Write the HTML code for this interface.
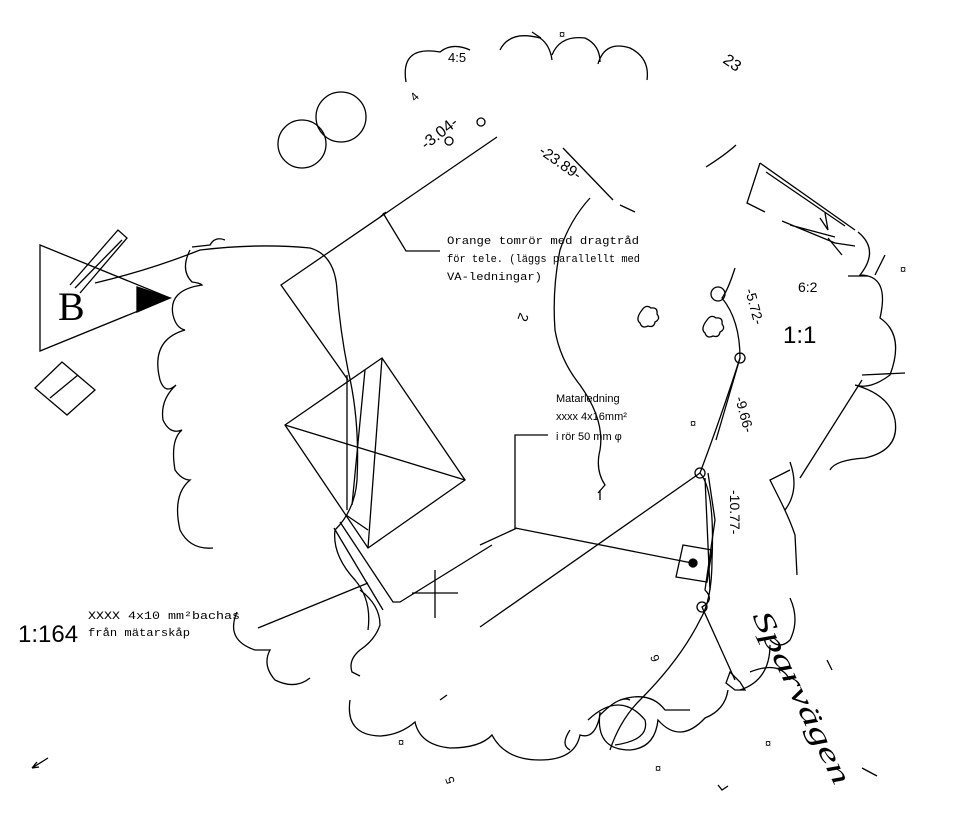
<!DOCTYPE html>
<html><head><meta charset="utf-8"><style>
html,body{margin:0;padding:0;background:#fff;}
svg{display:block}
</style></head><body>
<svg width="960" height="839" viewBox="0 0 960 839" xmlns="http://www.w3.org/2000/svg" style="font-family:'Liberation Sans',sans-serif">
<g fill="none" stroke="#000" stroke-width="1.3">
<path d="M406,82 Q400,45 440,52 Q452,42 470,50 M500,50 Q510,30 540,38 Q550,45 552,60 M552,55 Q560,35 585,38 Q600,45 600,62 M598,64 Q605,40 630,48 Q650,58 647,80"/>
<path d="M532,32 L541,38"/>
<circle cx="302" cy="144" r="24"/>
<circle cx="341" cy="117" r="25"/>
<circle cx="449" cy="141" r="4"/><circle cx="481" cy="122" r="4"/>
<path d="M497,137 L281,285 L348,380"/>
<path d="M380,217 L386,212 M383,213 L406,251 L440,251"/>
<path d="M40,245 L40,351 L170,298 Z"/>
<path d="M137,287 L170,298 L137,312 Z" fill="#000"/>
<path d="M70,285 L118,230 L127,238 L80,293"/>
<path d="M75,288 L122,240"/>
<path d="M35,388 L62,362 L95,390 L67,415 Z"/>
<path d="M50,398 L78,375"/>
<path d="M95,283 Q150,270 200,250 Q260,243 310,248 Q335,255 337,290 Q340,330 348,370 Q360,420 357,480 Q355,510 335,530 Q332,555 355,580 Q372,600 368,630"/>
<path d="M192,247 L210,245 Q215,236 225,240"/>
<path d="M190,250 Q180,270 192,282 Q200,283 202,285 Q168,290 173,315 Q176,328 185,330 Q150,340 160,380 Q165,395 176,385 Q160,400 163,420 Q170,435 182,430 Q170,440 175,470 Q182,480 190,480 Q172,495 180,530 Q190,550 213,548"/>
<path d="M285,425 L382,358 L465,480 L368,548 Z"/>
<path d="M285,425 L465,480 M382,358 L368,548 M347,375 L347,510"/>
<path d="M365,370 L352,505"/>
<path d="M340,522 L393,602 L400,602 L492,545"/>
<path d="M334,528 L383,610 M346,515 L368,530"/>
<path d="M360,590 Q380,605 380,625 Q375,640 360,650 Q348,660 352,672 L360,676"/>
<path d="M412,593 L458,593 M435,570 L435,618"/>
<path d="M258,628 L368,583"/>
<path d="M237,612 Q225,640 255,650 L270,650 Q262,665 275,680 Q295,690 310,678"/>
<path d="M548,435 L515,435 L515,528 L692,563"/>
<path d="M480,627 L700,473"/>
<path d="M480,545 L517,528"/>
<path d="M683,545 L712,550 L707,582 L676,577 Z"/>
<circle cx="693" cy="563" r="4" fill="#000"/>
<circle cx="700" cy="473" r="5"/>
<circle cx="702" cy="607" r="5"/>
<circle cx="740" cy="358" r="5"/>
<circle cx="718" cy="294" r="7"/>
<path d="M735,268 Q728,290 722,298 Q740,320 740,358 Q720,420 700,473 Q715,490 712,560 Q712,600 700,620 Q680,660 640,700 Q620,720 610,750"/>
<path d="M740,358 L716,440 M705,478 L710,590"/>
<path d="M708,473 L715,520 L705,590 Q715,600 702,607 L735,680"/>
<path d="M563,148 L613,200 M620,205 L635,212"/>
<path d="M590,198 Q570,220 560,250 Q552,290 555,330 Q560,360 580,385 Q605,420 600,450 Q595,470 605,485 L598,493 M600,490 L600,500"/>
<path d="M642,310 q4,-6 9,-2 q7,-1 6,6 q4,5 -2,8 q-1,6 -7,4 q-6,3 -8,-3 q-5,-4 2,-13z"/>
<path d="M707,320 q4,-6 9,-2 q7,-1 6,6 q4,5 -2,8 q-1,6 -7,4 q-6,3 -8,-3 q-5,-4 2,-13z"/>
<path d="M706,167 Q725,155 736,145"/>
<path d="M760,163 L747,203 L765,212 M760,163 L855,230 M766,172 L845,226 M782,221 L835,243 L855,246 M790,225 L835,237 M828,238 L842,255 M820,218 L828,230 L825,213"/>
<path d="M875,275 L885,255"/>
<path d="M858,232 Q880,250 860,275 Q890,275 880,318 Q905,335 890,375 Q870,390 855,385 Q890,395 895,420 Q900,450 865,458 Q835,460 830,470"/>
<path d="M848,276 L868,276 M862,375 L905,373"/>
<path d="M800,478 L862,380"/>
<path d="M790,470 L770,480 L780,500 Q790,520 795,535 L797,575"/>
<path d="M790,462 Q800,490 785,510"/>
<path d="M790,598 Q800,620 790,640 Q780,650 770,640 M770,645 Q770,680 740,690"/>
<path d="M750,672 Q780,660 790,680"/>
<path d="M730,672 L740,682 L745,690 L735,690 L726,683 Z"/>
<path d="M350,700 Q345,735 380,736 Q400,735 415,722 Q420,745 450,748 Q480,748 492,735 Q505,760 540,760 Q575,760 580,735 Q595,740 600,715 Q620,695 630,700 M600,712 Q595,750 630,750 Q655,748 658,720 Q680,745 705,718 Q725,710 728,690 M620,700 Q650,690 665,710 L690,710"/>
<path d="M588,720 Q620,690 645,720 Q650,740 615,745"/>
<path d="M440,700 L447,695"/>
<path d="M570,730 Q560,745 570,750"/>
<path d="M32,768 L48,758 M32,768 L37,762 M32,768 L39,767"/>
<path d="M827,660 L832,670 M862,768 L877,776 M718,785 L722,790 L728,786"/>
</g>
<text x="448" y="62" font-size="13">4:5</text>
<text x="559" y="38" font-size="11">¤</text>
<text font-size="16" transform="translate(722,62) rotate(35)">23</text>
<text font-size="12" transform="translate(415,102) rotate(-45)">4</text>
<text font-size="16" transform="translate(426,150) rotate(-38)">-3.04-</text>
<text font-size="15" transform="translate(538,153) rotate(35)">-23.89-</text>
<g style="font-family:'Liberation Mono',monospace" font-size="11">
<text x="447" y="244" textLength="192" lengthAdjust="spacingAndGlyphs">Orange tomrör med dragtråd</text>
<text x="447" y="262" textLength="193" lengthAdjust="spacingAndGlyphs">för tele. (läggs parallellt med</text>
<text x="447" y="280" textLength="95" lengthAdjust="spacingAndGlyphs">VA-ledningar)</text>
<text x="88" y="619" textLength="152" lengthAdjust="spacingAndGlyphs">XXXX 4x10 mm²bachas</text>
<text x="88" y="636" textLength="102" lengthAdjust="spacingAndGlyphs">från mätarskåp</text>
</g>
<g font-size="11">
<text x="556" y="402">Matarledning</text>
<text x="556" y="420">xxxx 4x16mm²</text>
<text x="556" y="440">i rör 50 mm φ</text>
</g>
<text x="58" y="320" font-size="40" style="font-family:'Liberation Serif',serif">B</text>
<text font-size="14" transform="translate(520,312) rotate(110)">2</text>
<text font-size="14" transform="translate(745,290) rotate(75)">-5.72-</text>
<text font-size="14" transform="translate(735,398) rotate(75)">-9.66-</text>
<text font-size="14" transform="translate(730,490) rotate(90)">-10.77-</text>
<text x="798" y="292" font-size="14">6:2</text>
<text x="783" y="343" font-size="24">1:1</text>
<text x="900" y="273" font-size="11">¤</text>
<text x="690" y="427" font-size="11">¤</text>
<text x="398" y="746" font-size="11">¤</text>
<text x="655" y="772" font-size="11">¤</text>
<text x="765" y="747" font-size="11">¤</text>
<text x="18" y="642" font-size="24">1:164</text>
<text font-size="12" transform="translate(660,660) rotate(-110)">6</text>
<text font-size="12" transform="translate(455,782) rotate(-110)">5</text>
<text font-size="28" textLength="190" lengthAdjust="spacingAndGlyphs" style="font-family:'Liberation Serif',serif;font-style:italic" transform="translate(752,616) rotate(64)">Sparvägen</text>
</svg>
</body></html>
